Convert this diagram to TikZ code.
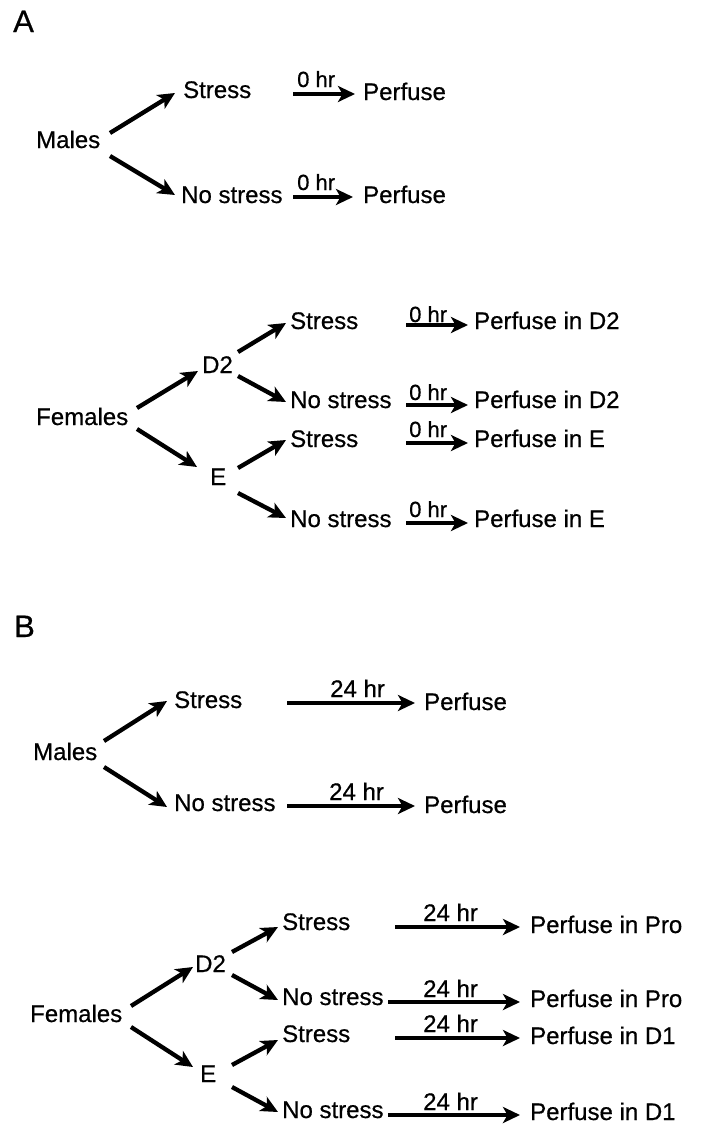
\documentclass[tikz,border=0pt]{standalone}
\usepackage{fontspec}
\setmainfont{Liberation Sans}[FakeBold=0.6,AutoFakeBold=0.6]
\usetikzlibrary{arrows.meta,calc}
\tikzset{
  txt/.style={inner sep=0pt, anchor=base west, font=\fontsize{24}{28}\selectfont\bfseries},
  hlab/.style={inner sep=0pt, anchor=base west, font=\fontsize{22}{26}\selectfont\bfseries},
  dlab/.style={inner sep=0pt, anchor=base west, font=\fontsize{24}{28}\selectfont\bfseries},
  panel/.style={inner sep=0pt, anchor=base west, font=\fontsize{31}{36}\selectfont\bfseries},
  arr/.style={line width=4.3pt, -{Stealth[length=17pt,width=16pt,inset=4.5pt]}},
}
\begin{document}
\begin{tikzpicture}[x=1pt,y=-1pt]
\useasboundingbox (0,0) rectangle (702,1127);
% ---------- Panel A ----------
\node[panel] (A) at (13,32) {A};
% males
\node[txt] (mA) at (36,148) {Males};
\node[txt] (sA) at (183,98) {Stress};
\node[txt] (nA) at (181,203) {No stress};
\node[txt] (pA1) at (363,100) {Perfuse};
\node[txt] (pA2) at (363,203) {Perfuse};
\node[hlab] (lA1) at (297,87) {0 hr};
\node[hlab] (lA2) at (297,190) {0 hr};
\draw[arr] ($(mA.base west)+(74,-15)$) -- ($(sA.base west)+(-8,-5)$);
\draw[arr] ($(mA.base west)+(74,8)$) -- ($(nA.base west)+(-6,-8)$);
\draw[arr] ($(sA.base west)+(110,-4)$) -- ($(pA1.base west)+(-8,-6)$);
\draw[arr] ($(nA.base west)+(112,-6)$) -- ($(pA2.base west)+(-10,-6)$);
% females
\node[txt] (fA) at (36,425) {Females};
\node[txt] (dA) at (202,373) {D2};
\node[txt] (eA) at (210,485) {E};
\node[txt] (s1) at (290,329) {Stress};
\node[txt] (n1) at (290,408) {No stress};
\node[txt] (s2) at (290,447) {Stress};
\node[txt] (n2) at (290,527) {No stress};
\node[txt] (p1) at (474,329) {Perfuse in D2};
\node[txt] (p2) at (474,408) {Perfuse in D2};
\node[txt] (p3) at (474,447) {Perfuse in E};
\node[txt] (p4) at (474,527) {Perfuse in E};
\node[hlab] (l1) at (409,322) {0 hr};
\node[hlab] (l2) at (409,400) {0 hr};
\node[hlab] (l3) at (409,437) {0 hr};
\node[hlab] (l4) at (409,517) {0 hr};
\draw[arr] ($(fA.base west)+(101,-17)$) -- ($(dA.base west)+(-4,-2)$);
\draw[arr] ($(fA.base west)+(101,4)$) -- ($(eA.base west)+(-13,-18)$);
\draw[arr] ($(dA.base west)+(36,-21)$) -- ($(s1.base west)+(-4,-6)$);
\draw[arr] ($(dA.base west)+(36,3)$) -- ($(n1.base west)+(-4,-6)$);
\draw[arr] ($(eA.base west)+(28,-17)$) -- ($(s2.base west)+(-4,-7)$);
\draw[arr] ($(eA.base west)+(28,8)$) -- ($(n2.base west)+(-4,-9)$);
\draw[arr] ($(s1.base west)+(116,-4)$) -- ($(p1.base west)+(-6,-4)$);
\draw[arr] ($(n1.base west)+(116,-3)$) -- ($(p2.base west)+(-6,-3)$);
\draw[arr] ($(s2.base west)+(116,-4)$) -- ($(p3.base west)+(-6,-4)$);
\draw[arr] ($(n2.base west)+(116,-4)$) -- ($(p4.base west)+(-6,-4)$);
% ---------- Panel B ----------
\node[panel] (B) at (14,637) {B};
% males
\node[txt] (mB) at (33,760) {Males};
\node[txt] (sB) at (174,708) {Stress};
\node[txt] (nB) at (174,811) {No stress};
\node[txt] (pB1) at (424,710) {Perfuse};
\node[txt] (pB2) at (424,813) {Perfuse};
\node[dlab] (lB1) at (330,697) {24 hr};
\node[dlab] (lB2) at (329,800) {24 hr};
\draw[arr] ($(mB.base west)+(71,-19)$) -- ($(sB.base west)+(-7,-7)$);
\draw[arr] ($(mB.base west)+(71,7)$) -- ($(nB.base west)+(-7,-4)$);
\draw[arr] ($(sB.base west)+(113,-5)$) -- ($(pB1.base west)+(-9,-7)$);
\draw[arr] ($(nB.base west)+(113,-5)$) -- ($(pB2.base west)+(-9,-7)$);
% females
\node[txt] (fB) at (30,1022) {Females};
\node[txt] (dB) at (195,972) {D2};
\node[txt] (eB) at (200,1082) {E};
\node[txt] (s1B) at (282,930) {Stress};
\node[txt] (n1B) at (282,1005) {No stress};
\node[txt] (s2B) at (282,1042) {Stress};
\node[txt] (n2B) at (282,1118) {No stress};
\node[txt] (p1B) at (530,933) {Perfuse in Pro};
\node[txt] (p2B) at (530,1007) {Perfuse in Pro};
\node[txt] (p3B) at (530,1044) {Perfuse in D1};
\node[txt] (p4B) at (530,1120) {Perfuse in D1};
\node[dlab] (k1) at (423,921) {24 hr};
\node[dlab] (k2) at (423,997) {24 hr};
\node[dlab] (k3) at (423,1032) {24 hr};
\node[dlab] (k4) at (423,1110) {24 hr};
\draw[arr] ($(fB.base west)+(101,-16)$) -- ($(dB.base west)+(-2,-5)$);
\draw[arr] ($(fB.base west)+(101,5)$) -- ($(eB.base west)+(-7,-15)$);
\draw[arr] ($(dB.base west)+(37,-20)$) -- ($(s1B.base west)+(-4,-3)$);
\draw[arr] ($(dB.base west)+(37,3)$) -- ($(n1B.base west)+(-4,-5)$);
\draw[arr] ($(eB.base west)+(32,-17)$) -- ($(s2B.base west)+(-4,-2)$);
\draw[arr] ($(eB.base west)+(32,5)$) -- ($(n2B.base west)+(-4,-6)$);
\draw[arr] ($(s1B.base west)+(113,-3)$) -- ($(p1B.base west)+(-10,-6)$);
\draw[arr] ($(n1B.base west)+(106,-3)$) -- ($(p2B.base west)+(-10,-5)$);
\draw[arr] ($(s2B.base west)+(113,-4)$) -- ($(p3B.base west)+(-10,-6)$);
\draw[arr] ($(n2B.base west)+(106,-3)$) -- ($(p4B.base west)+(-10,-5)$);
\end{tikzpicture}
\end{document}
